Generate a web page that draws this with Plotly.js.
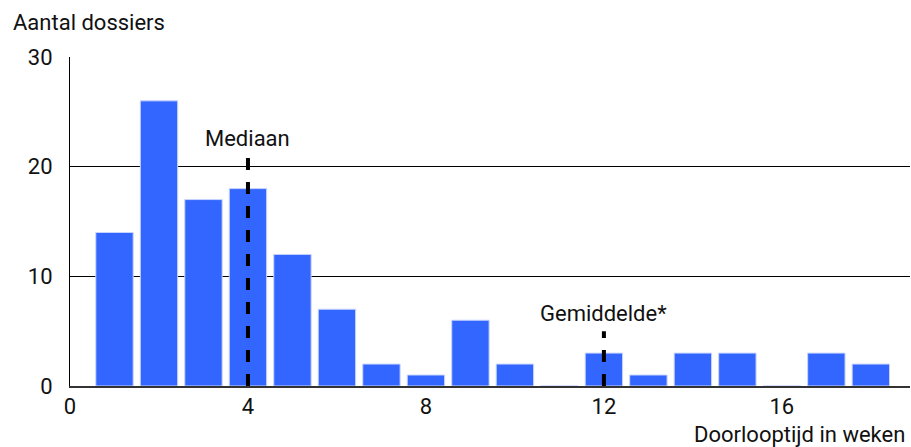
<!DOCTYPE html>
<html>
<head>
<meta charset="utf-8">
<script src="https://cdn.plot.ly/plotly-3.0.1.min.js"></script>
<style>html,body{margin:0;padding:0;background:#fff;}#chart{width:911px;height:447px;}</style>
</head>
<body>
<div id="chart"></div>
<script>
const weeks = [1,2,3,4,5,6,7,8,9,10,11,12,13,14,15,16,17,18];
const dossiers = [14,26,17,18,12,7,2,1,6,2,0,3,1,3,3,0,3,2];
const xTicks = [0,4,8,12,16];
const yTicks = [0,10,20,30];
const markerNames = ['Mediaan','Gemiddelde*'];
const markerX = [4,12];
const markerTop = [21,5];
const markerLabelY = [22.6,6.6];

const shapes = markerX.map((x,i)=>({
  type:'line', xref:'x', yref:'y', x0:x, x1:x, y0:0, y1:markerTop[i],
  line:{color:'#000', width:4, dash:'dash'}, layer:'above'
}));
const annotations = markerX.map((x,i)=>({
  x:x, y:markerLabelY[i], xref:'x', yref:'y', text:markerNames[i], showarrow:false,
  font:{family:'Roboto', size:22, color:'#111'}, xanchor:'center', yanchor:'middle'
}));
annotations.push({xref:'paper', yref:'paper', x:-0.07, y:1.106, xanchor:'left', yanchor:'middle',
  text:'Aantal dossiers', showarrow:false, font:{family:'Roboto', size:22, color:'#111'}});
annotations.push({xref:'paper', yref:'paper', x:0.997, y:-0.148, xanchor:'right', yanchor:'middle',
  text:'Doorlooptijd in weken', showarrow:false, font:{family:'Roboto', size:22, color:'#111'}});

Plotly.newPlot('chart', [{
  type:'bar', x:weeks, y:dossiers,
  marker:{color:'#3366ff', line:{color:'#c8d4ff', width:1}},
  hoverinfo:'none'
}], {
  width:911, height:447,
  margin:{l:70, r:1, t:57, b:61},
  paper_bgcolor:'#fff', plot_bgcolor:'#fff',
  bargap:0.16,
  showlegend:false,
  xaxis:{range:[0,18.88], tickvals:xTicks, ticktext:xTicks.map(String), showgrid:false,
    zeroline:false, showline:true, linecolor:'#333', linewidth:2, ticks:'',
    tickfont:{family:'Roboto', size:22, color:'#111'}, fixedrange:true},
  yaxis:{range:[0,30], tickvals:yTicks, ticktext:yTicks.map(String), showgrid:true,
    gridcolor:'#000', gridwidth:1, zeroline:false, showline:true, linecolor:'#000', linewidth:1,
    ticks:'', ticklabelstandoff:12,
    tickfont:{family:'Roboto', size:22, color:'#111'}, fixedrange:true},
  shapes:shapes,
  annotations:annotations
}, {staticPlot:true});
</script>
</body>
</html>
